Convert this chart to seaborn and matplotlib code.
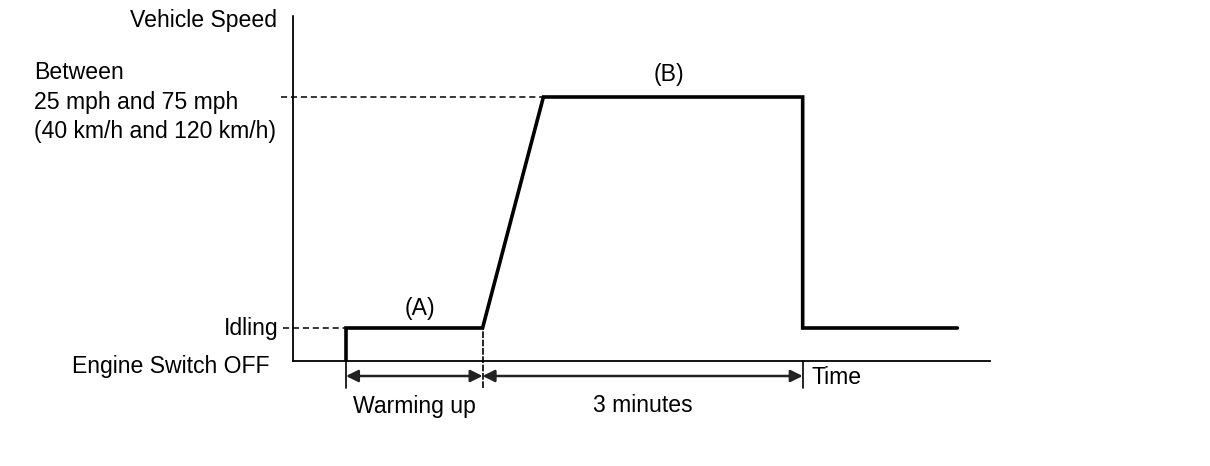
import matplotlib
matplotlib.use("Agg")
import matplotlib.pyplot as plt
import seaborn as sns
import pandas as pd

# ---- data (schematic units: time in minutes, speed level in arbitrary units) ----
time_pts = [0.0, 0.0, 1.28, 1.85, 4.28, 4.28, 5.73]
speed_pts = [0.0, 1.0, 1.0, 8.0, 8.0, 1.0, 1.0]
level_idle = 1.0
level_cruise = 8.0
t_start = 0.0
t_warm_end = 1.28
t_stop = 4.28
phase_labels = ["Warming up", "3 minutes"]
y_labels = ["Vehicle Speed", "Between\n25 mph and 75 mph\n(40 km/h and 120 km/h)",
            "Idling", "Engine Switch OFF"]

sns.set_theme(style="white")
plt.rcParams['font.family'] = ['Liberation Sans', 'DejaVu Sans']

W, H = 1210, 466
fig = plt.figure(figsize=(W / 100, H / 100), dpi=100)
# axes: left edge at px 293, bottom at px 361, right at px 990, top at px 15
ax = fig.add_axes([293 / W, (H - 361) / H, (990 - 293) / W, (361 - 15) / H])
px_per_min = 106.7
px_per_lvl = 33.0
ax.set_xlim(-53 / px_per_min, -53 / px_per_min + 697 / px_per_min)
ax.set_ylim(0, 346 / px_per_lvl)

df = pd.DataFrame({"t": time_pts, "v": speed_pts})
sns.lineplot(data=df, x="t", y="v", sort=False, estimator=None, color="black",
             lw=2.6, ax=ax, solid_joinstyle="miter")

ax.set_xticks([])
ax.set_yticks([])
ax.set_xlabel("")
ax.set_ylabel("")
for s in ["top", "right"]:
    ax.spines[s].set_visible(False)
for s in ["left", "bottom"]:
    ax.spines[s].set_linestyle((0, (5, 1)))
    ax.spines[s].set_linewidth(1.3)
    ax.spines[s].set_color("black")

x0 = ax.get_xlim()[0]
dx_px = 1 / px_per_min
dy_px = 1 / px_per_lvl

# dashed guides
ax.plot([x0 - 12 * dx_px, time_pts[3]], [level_cruise, level_cruise], ls=(0, (4, 2.5)),
        color="black", lw=1.1, clip_on=False)
ax.plot([x0 - 10 * dx_px, t_start], [level_idle, level_idle], ls=(0, (4, 2.5)),
        color="black", lw=1.1, clip_on=False)

# vertical boundary lines below axis
y_arrow = -15 * dy_px
y_tick_bot = -27 * dy_px
for t, top in [(t_start, 0), (t_warm_end, level_idle), (t_stop, 0)]:
    ax.plot([t, t], [y_tick_bot, top], color="black", lw=1.2, clip_on=False,
            ls="-" if t != t_warm_end else (0, (4, 1)))

# double arrows
for a, b in [(t_start, t_warm_end), (t_warm_end, t_stop)]:
    ax.annotate("", xy=(b, y_arrow), xytext=(a, y_arrow), annotation_clip=False,
                arrowprops=dict(arrowstyle="<|-|>", color="#222222", lw=1.8,
                                shrinkA=0, shrinkB=0, mutation_scale=18))

fs = 16.6
tc = "black"
y_txt = -45 * dy_px
ax.text((t_start + t_warm_end) / 2, y_txt, phase_labels[0], ha="center", va="center",
        fontsize=fs, color=tc, clip_on=False)
ax.text((t_warm_end + t_stop) / 2, y_txt, phase_labels[1], ha="center", va="center",
        fontsize=fs, color=tc, clip_on=False)
ax.text(t_stop + 9 * dx_px, -17 * dy_px, "Time", ha="left", va="center",
        fontsize=fs, color=tc, clip_on=False)

ax.text((t_start + t_warm_end) / 2 + 6 * dx_px, level_idle + 19 * dy_px, "(A)",
        ha="center", va="center", fontsize=fs, color=tc, clip_on=False)
ax.text(3.03, level_cruise + 22 * dy_px, "(B)",
        ha="center", va="center", fontsize=fs, color=tc, clip_on=False)

ax.text(x0 - 16 * dx_px, 346 / px_per_lvl - 6 * dy_px, y_labels[0], ha="right",
        va="center", fontsize=fs, color=tc, clip_on=False)
ax.text(x0 - 259 * dx_px, level_cruise - 5 * dy_px, y_labels[1], ha="left",
        va="center", fontsize=fs, color=tc, linespacing=1.37, clip_on=False)
ax.text(x0 - 14 * dx_px, level_idle, y_labels[2], ha="right", va="center",
        fontsize=fs, color=tc, clip_on=False)
ax.text(x0 - 23 * dx_px, -6 * dy_px, y_labels[3], ha="right", va="center",
        fontsize=fs, color=tc, clip_on=False)

fig.savefig("out.png", dpi=100, facecolor="white")
